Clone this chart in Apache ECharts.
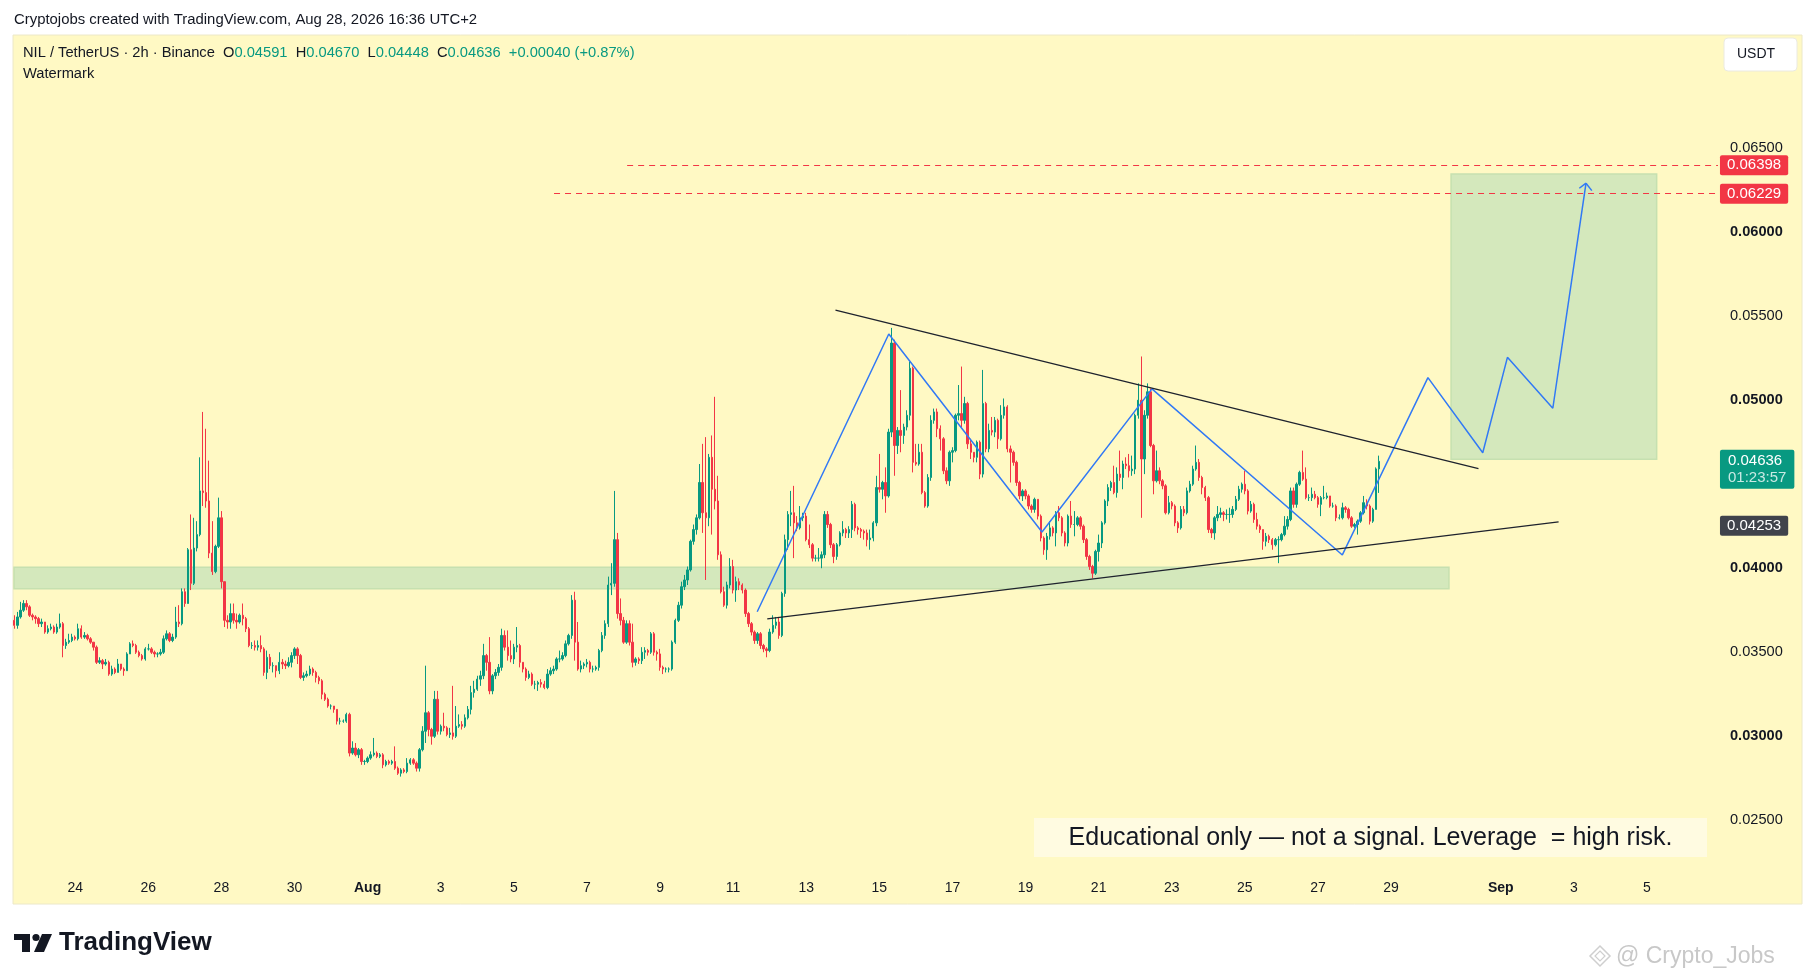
<!DOCTYPE html>
<html>
<head>
<meta charset="utf-8">
<title>NIL / TetherUS 2h</title>
<script src="https://cdn.jsdelivr.net/npm/echarts@6/dist/echarts.min.js"></script>
<style>
  html, body { margin: 0; padding: 0; background: #ffffff; }
  #chart { width: 1814px; height: 980px; }
</style>
</head>
<body>
<div id="chart"></div>
<script>
const FONT = "'Liberation Sans', Arial, sans-serif";
const SCALE = 0.0001; // candle values below are in units of 0.0001 USDT
const FIRST_SLOT = 4; // slot = 2h steps counted from Jul 22 00:00
const FIRST_OPEN = 369;

const closes = [
  366,371,375,379,377,372,371,370,367,368,362,364,365,362,365,367,354,356,357,359,
  358,364,359,360,358,356,353,344,345,343,344,337,340,338,343,340,339,349,355,354,
  350,348,346,352,352,350,349,349,350,358,361,357,359,368,367,386,379,411,391,412,
  420,446,445,440,409,398,413,430,392,369,368,373,369,368,372,370,364,354,354,353,
  354,352,338,347,342,342,339,344,343,342,344,348,352,348,335,
  336,337,340,338,335,333,325,322,318,318,316,309,309,309,313,290,293,289,292,285,
  285,287,289,290,288,289,283,285,284,285,281,278,280,279,284,286,284,281,292,303,
  314,304,300,322,303,306,305,301,302,300,306,307,306,311,316,326,328,334,336,348,
  344,327,336,338,341,360,353,348,346,353,354,344,340,335,337,331,331,332,331,329,
  337,339,340,346,346,348,355,360,381,356,
  340,342,343,344,340,340,341,351,360,367,390,391,417,373,369,356,367,356,344,346,
  345,350,351,350,361,350,349,341,340,340,340,356,369,378,389,393,399,416,423,430,
  451,433,430,466,447,440,408,386,378,390,401,387,392,390,387,373,367,362,357,361,
  354,352,351,362,366,368,360,385,417,432,433,427,424,430,431,417,414,406,406,406,
  408,432,426,414,407,414,421,423,421,423,438,424,423,422,421,
  417,418,427,448,447,451,443,481,534,473,482,479,484,491,519,463,462,469,445,437,
  454,488,493,483,477,458,452,469,470,491,492,488,498,474,469,466,475,456,498,471,482,
  481,488,477,491,496,471,469,463,451,443,446,443,437,435,441,431,418,411,419,
  424,421,433,430,421,415,431,426,426,430,425,417,407,401,397,410,415,427,440,448,
  451,445,456,454,462,461,458,459,
  491,500,465,491,505,
  473,452,458,452,449,433,439,437,427,424,435,433,446,450,459,463,454,448,442,423,
  421,430,432,433,432,432,432,435,441,447,450,446,434,438,429,425,423,416,419,417,
  414,417,417,420,425,429,446,438,450,457,453,442,442,444,442,438,442,442,443,437,
  437,430,430,436,435,430,425,426,428,433,439,437,428,435,459.1,463.6
];

const highs = [
  372,374,380,381,381,378,373,372,371,370,367,366,367,366,367,373,368,358,361,361,
  360,367,366,362,361,359,356,354,347,346,346,345,342,341,346,343,341,350,356,357,
  355,351,349,353,355,353,351,350,352,360,363,362,361,377,378,388,388,412,432,430,
  428,466,493,483,464,428,414,442,434,392,372,379,379,373,373,379,371,365,356,357,
  357,360,353,351,349,344,342,350,346,345,347,350,353,353,349,
  338,339,342,341,339,336,334,326,323,319,318,316,311,310,314,314,297,296,293,293,
  286,288,291,299,291,290,290,286,286,286,294,282,281,281,287,287,287,285,293,306,
  342,315,305,327,327,307,314,306,305,330,318,313,309,313,318,330,333,336,339,355,
  349,359,337,340,343,364,363,363,357,355,365,355,344,341,339,338,333,333,334,333,
  340,341,342,347,351,350,357,361,384,386,
  368,345,344,346,345,342,342,352,362,369,395,403,446,421,382,371,369,369,367,347,
  347,353,353,352,362,362,351,352,342,341,341,357,370,380,392,396,401,417,426,432,
  462,474,478,468,479,502,455,410,389,392,406,405,395,394,391,388,374,368,363,362,
  362,355,353,364,372,371,371,386,420,434,446,449,431,437,433,433,426,415,408,412,
  410,434,434,427,415,415,422,428,424,425,440,439,425,424,423,
  423,423,428,455,468,452,460,483,543,536,484,506,486,494,523,520,474,474,474,446,
  456,491,495,495,485,478,460,470,472,492,509,520,502,499,477,469,476,476,518,499,486,
  490,490,489,497,501,497,473,470,464,452,447,447,444,438,442,441,432,419,421,
  428,425,434,437,431,422,432,440,434,431,431,426,418,408,402,411,420,428,441,450,
  452,461,460,470,464,466,468,467,
  492,510,526,494,510,
  507,474,470,460,453,450,443,440,438,428,437,437,448,452,461,473,465,455,449,443,
  424,431,437,436,434,435,436,437,443,449,451,458,447,440,439,433,426,423,421,420,
  418,418,419,421,431,431,448,448,451,458,470,460,444,448,446,443,443,449,445,443,
  439,438,432,439,437,436,431,427,429,434,443,441,438,436,460,467.0
];

const lows = [
  364,364,370,374,375,371,369,367,365,365,361,361,363,361,361,364,347,352,355,356,
  357,357,358,358,357,355,351,343,343,340,342,336,336,337,338,339,336,339,349,353,
  349,347,345,345,351,349,347,347,348,349,357,356,356,358,365,366,377,379,387,390,
  410,419,437,436,406,396,397,412,388,365,364,364,367,364,367,366,362,353,352,351,
  351,350,336,334,340,338,335,337,340,340,341,341,346,343,334,
  333,335,336,336,332,331,322,321,317,316,314,307,307,308,308,288,289,288,287,283,
  283,284,286,288,287,287,281,282,283,283,280,277,276,278,278,283,283,279,279,291,
  296,300,295,299,301,301,303,300,299,298,299,305,304,305,310,313,323,327,330,334,
  339,325,325,334,336,339,351,345,344,343,350,341,338,333,334,330,328,327,329,328,
  328,336,337,339,344,345,347,354,358,345,
  339,338,340,341,338,338,339,339,350,358,365,384,389,370,366,355,355,354,341,342,
  343,343,346,348,349,348,345,339,337,338,338,339,355,368,376,387,390,398,414,420,
  429,421,393,425,420,435,405,385,377,376,388,385,380,387,385,371,365,360,355,355,
  352,350,347,350,361,364,358,359,383,411,425,406,422,423,428,416,412,404,404,404,
  400,406,424,412,403,405,413,419,418,418,418,422,420,418,417,
  413,411,416,425,445,441,433,442,478,455,468,469,474,482,488,457,461,461,444,436,
  436,452,486,478,470,456,450,449,463,469,488,484,486,471,465,463,463,453,454,469,469,
  479,478,471,476,489,469,451,461,449,441,440,441,435,433,433,429,416,408,405,
  417,419,413,428,419,413,413,424,419,425,423,415,405,399,394,396,404,412,426,437,
  446,444,442,452,447,459,454,455,
  456,489,430,456,489,
  472,444,451,450,447,432,432,435,425,421,423,431,432,445,449,458,452,444,440,421,
  418,417,428,430,428,429,427,430,434,440,445,444,432,433,427,423,421,411,413,415,
  411,413,403,416,419,423,428,436,436,449,452,441,440,440,441,436,431,441,441,436,
  436,428,429,429,433,429,424,424,420,427,432,435,426,427,435,444.8
];

// time axis labels: day offset from Jul 22
const tickDays = [2, 4, 6, 8, 10, 12, 14, 16, 18, 20, 22, 24, 26, 28, 30, 32, 34, 36, 38, 41, 43, 45];
const tickTexts = ['24', '26', '28', '30', 'Aug', '3', '5', '7', '9', '11', '13', '15', '17', '19', '21', '23', '25', '27', '29', 'Sep', '3', '5'];
const priceTicks = [0.025, 0.03, 0.035, 0.04, 0.05, 0.055, 0.06, 0.065];

// drawings (slot, price)
const patternX = [247.9, 291.1, 341.4, 377.5, 440.0, 468.1, 486.1, 494.2, 509.1, 520.0];
const patternY = [0.03741, 0.05394, 0.04216, 0.05067, 0.04079, 0.05134, 0.04687, 0.05255, 0.04952, 0.06291];
const arrowWings = [[517.8, 0.06261], [521.9, 0.06247]];
const upperTrend = [[273.6, 0.05536], [484.7, 0.04593]];
const lowerTrend = [[251.2, 0.03698], [511.0, 0.04276]];
const supportZone = { x1: 475.0, top: 0.04006, bottom: 0.03878 };
const targetBox = { x0: 475.7, x1: 543.2, top: 0.06346, bottom: 0.04648 };
const targetLines = [
  { start: 205.2, price: 0.06398 },
  { start: 181.2, price: 0.06229 },
];
const lastPrice = 0.04636;
const trendPrice = 0.04253;

const X_MIN = 3.907;
const X_MAX = 563.33;
const Y_MIN = 0.022042;
const Y_MAX = 0.07173;

const candles = closes.map((c, i) => {
  const o = i ? closes[i - 1] : FIRST_OPEN;
  const h = Math.max(highs[i], o, c);
  const l = Math.min(lows[i], o, c);
  return [FIRST_SLOT + i, o * SCALE, c * SCALE, l * SCALE, h * SCALE];
});

const tickSlots = tickDays.map(d => d * 12);

const badge = (bg, text) => ({
  show: true,
  position: 'end',
  distance: 2,
  opacity: 1,
  formatter: text,
  backgroundColor: bg,
  color: '#ffffff',
  fontFamily: FONT,
  fontSize: 15,
  padding: [3, 7, 2, 7],
  borderRadius: 2,
});

// price-scale badges without a visible line
const clearLine = { color: 'rgba(0,0,0,0)', width: 1, type: 'solid' };

const markLines = [
  ...targetLines.map(t => [
    {
      coord: [t.start, t.price],
      lineStyle: { color: '#F23645', width: 1, type: [6, 5] },
      label: badge('#F23645', t.price.toFixed(5)),
    },
    { coord: [X_MAX - 0.01, t.price] },
  ]),
  [
    { coord: upperTrend[0], lineStyle: { color: '#1e222d', width: 1.3, type: 'solid' }, label: { show: false } },
    { coord: upperTrend[1] },
  ],
  [
    { coord: lowerTrend[0], lineStyle: { color: '#1e222d', width: 1.3, type: 'solid' }, label: { show: false } },
    { coord: lowerTrend[1] },
  ],
  ...arrowWings.map(w => [
    { coord: [patternX[patternX.length - 1], patternY[patternY.length - 1]], lineStyle: { color: '#3179f5', width: 1.5, type: 'solid' }, label: { show: false } },
    { coord: w },
  ]),
  [
    {
      coord: [X_MIN + 0.01, lastPrice],
      lineStyle: clearLine,
      label: {
        show: true,
        position: 'end',
        distance: 2,
        offset: [0, 8],
        opacity: 1,
        formatter: '{a|' + lastPrice.toFixed(5) + '}\n{b|01:23:57}',
        backgroundColor: '#089981',
        padding: [3, 8, 2, 8],
        borderRadius: 2,
        rich: {
          a: { color: '#ffffff', fontSize: 15, fontFamily: FONT, lineHeight: 17 },
          b: { color: 'rgba(255,255,255,0.78)', fontSize: 15, fontFamily: FONT, lineHeight: 17 },
        },
      },
    },
    { coord: [X_MAX - 0.01, lastPrice] },
  ],
  [
    { coord: [X_MIN + 0.01, trendPrice], lineStyle: clearLine, label: badge('#40434b', trendPrice.toFixed(5)) },
    { coord: [X_MAX - 0.01, trendPrice] },
  ],
];

const option = {
  animation: false,
  backgroundColor: '#ffffff',
  textStyle: { fontFamily: FONT },
  grid: { left: 14, right: 96, top: 35, bottom: 110 },
  xAxis: {
    type: 'value',
    min: X_MIN,
    max: X_MAX,
    axisLine: { show: false },
    axisTick: { show: false },
    splitLine: { show: false },
    axisLabel: {
      customValues: tickSlots,
      margin: 11,
      color: '#131722',
      fontSize: 14,
      fontFamily: FONT,
      formatter: v => {
        const k = tickSlots.indexOf(Math.round(v));
        if (k < 0) return '';
        const t = tickTexts[k];
        return isNaN(+t) ? '{b|' + t + '}' : t;
      },
      rich: { b: { fontWeight: 'bold', fontSize: 14, color: '#131722', fontFamily: FONT } },
    },
  },
  yAxis: {
    type: 'value',
    position: 'right',
    min: Y_MIN,
    max: Y_MAX,
    scale: true,
    axisLine: { show: false },
    axisTick: { show: false },
    splitLine: { show: false },
    axisLabel: {
      customValues: priceTicks,
      margin: 12,
      color: '#131722',
      fontSize: 14.6,
      fontFamily: FONT,
      formatter: v => {
        const major = Math.abs(v * 100 - Math.round(v * 100)) < 1e-6;
        return major ? '{b|' + v.toFixed(5) + '}' : v.toFixed(5);
      },
      rich: { b: { fontWeight: 'bold', fontSize: 14.6, color: '#131722', fontFamily: FONT } },
    },
  },
  series: [
    {
      name: 'NIL/USDT',
      type: 'candlestick',
      data: candles,
      encode: { x: 0, y: [1, 2, 3, 4] },
      barWidth: 1.9,
      large: false,
      silent: true,
      z: 3,
      itemStyle: {
        color: '#089981',
        color0: '#F23645',
        borderColor: '#089981',
        borderColor0: '#F23645',
        borderColorDoji: '#089981',
        borderWidth: 1,
      },
      markArea: {
        silent: true,
        itemStyle: { color: '#d4e8bc', borderColor: '#c6e0b0', borderWidth: 1.5 },
        data: [
          [{ coord: [X_MIN + 0.01, supportZone.top] }, { coord: [supportZone.x1, supportZone.bottom] }],
          [{ coord: [targetBox.x0, targetBox.top] }, { coord: [targetBox.x1, targetBox.bottom] }],
        ],
      },
      markLine: {
        silent: true,
        symbol: ['none', 'none'],
        data: markLines,
      },
    },
    {
      name: 'pattern',
      type: 'line',
      data: patternX.map((x, i) => [x, patternY[i]]),
      showSymbol: false,
      silent: true,
      z: 4,
      lineStyle: { color: '#3179f5', width: 1.5 },
    },
  ],
  graphic: [
    {
      type: 'rect', z: -10, silent: true,
      shape: { x: 13, y: 35, width: 1789, height: 869 },
      style: { fill: '#fff9c4', stroke: '#ece8c8', lineWidth: 1 },
    },
    {
      type: 'text', x: 14, y: 20, silent: true,
      style: { text: 'Cryptojobs created with TradingView.com, Aug 28, 2026 16:36 UTC+2', fill: '#131722', fontSize: 14.9, fontFamily: FONT, verticalAlign: 'middle' },
    },
    {
      type: 'text', x: 23, y: 53, silent: true,
      style: {
        text: 'NIL / TetherUS · 2h · Binance  O{g|0.04591}  H{g|0.04670}  L{g|0.04448}  C{g|0.04636}  {g|+0.00040 (+0.87%)}',
        fill: '#131722', fontSize: 14.7, fontFamily: FONT, verticalAlign: 'middle',
        rich: { g: { fill: '#089981', fontSize: 14.7, fontFamily: FONT } },
      },
    },
    {
      type: 'text', x: 23, y: 74, silent: true,
      style: { text: 'Watermark', fill: '#131722', fontSize: 14.7, fontFamily: FONT, verticalAlign: 'middle' },
    },
    {
      type: 'rect', silent: true,
      shape: { x: 1724, y: 38, width: 73, height: 33, r: 4 },
      style: { fill: '#ffffff', stroke: '#ebeae0', lineWidth: 1 },
    },
    {
      type: 'text', x: 1737, y: 54.5, silent: true,
      style: { text: 'USDT', fill: '#131722', fontSize: 14, fontFamily: FONT, verticalAlign: 'middle' },
    },
    {
      type: 'rect', silent: true,
      shape: { x: 1034, y: 818, width: 673, height: 39 },
      style: { fill: '#fffbe1' },
    },
    {
      type: 'text', x: 1370.5, y: 838, silent: true,
      style: { text: 'Educational only — not a signal. Leverage  = high risk.', fill: '#131722', fontSize: 25, fontFamily: FONT, align: 'center', verticalAlign: 'middle' },
    },
    // TradingView logo
    { type: 'rect', silent: true, shape: { x: 14, y: 934, width: 16, height: 6 }, style: { fill: '#131722' } },
    { type: 'rect', silent: true, shape: { x: 22, y: 934, width: 8, height: 18 }, style: { fill: '#131722' } },
    { type: 'circle', silent: true, shape: { cx: 36, cy: 937.5, r: 3.6 }, style: { fill: '#131722' } },
    { type: 'polygon', silent: true, shape: { points: [[42, 934], [52, 934], [44, 952], [34, 952]] }, style: { fill: '#131722' } },
    {
      type: 'text', x: 59, y: 943, silent: true,
      style: { text: 'TradingView', fill: '#131722', fontSize: 26, fontWeight: 'bold', fontFamily: FONT, verticalAlign: 'middle' },
    },
    // bottom-right watermark
    {
      type: 'polygon', silent: true,
      shape: { points: [[1600, 946], [1610, 956], [1600, 966], [1590, 956]] },
      style: { fill: 'none', stroke: '#cfcfcf', lineWidth: 1.5 },
    },
    {
      type: 'polygon', silent: true,
      shape: { points: [[1600, 951], [1605, 956], [1600, 961], [1595, 956]] },
      style: { fill: 'none', stroke: '#cfcfcf', lineWidth: 1.2 },
    },
    {
      type: 'text', x: 1616, y: 957, silent: true,
      style: { text: '@ Crypto_Jobs', fill: '#c8c8c8', fontSize: 23, fontFamily: FONT, verticalAlign: 'middle' },
    },
  ],
};

const chart = echarts.init(document.getElementById('chart'), null, { renderer: 'canvas' });
chart.setOption(option);
</script>
</body>
</html>
